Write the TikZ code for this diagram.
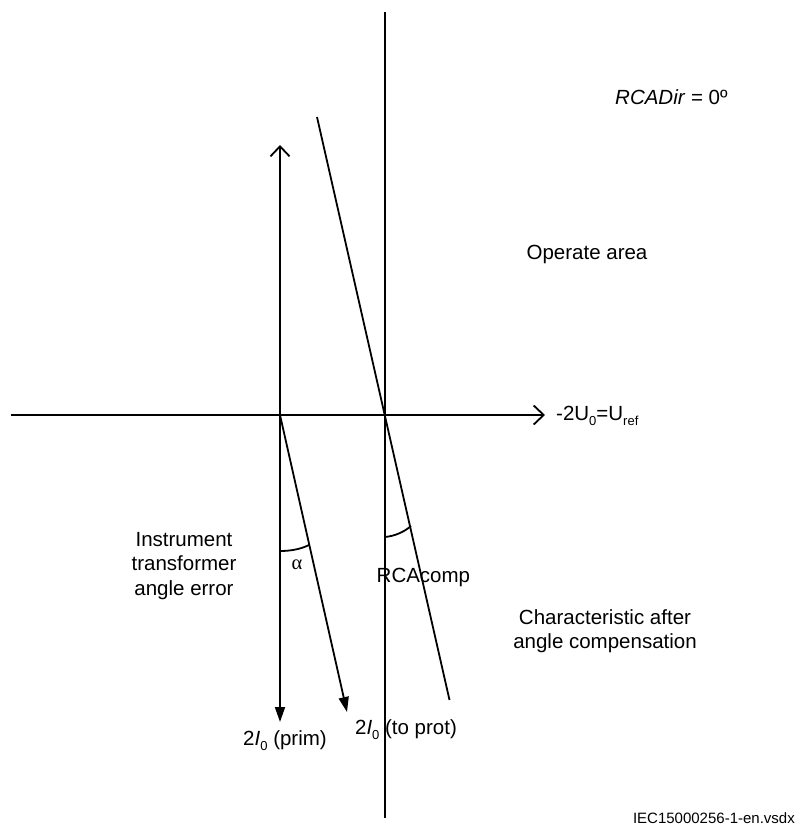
\documentclass[tikz,border=0pt]{standalone}
\usepackage{fontspec}
\setmainfont{Liberation Sans}
\newfontfamily\greekfont{Liberation Serif}
\usetikzlibrary{arrows.meta}
\newcommand\subx[1]{\raisebox{-0.45ex}{\fontsize{13}{13}\selectfont #1}}
\begin{document}
\begin{tikzpicture}[x=1pt,y=-1pt,
  ln/.style={line width=1.8pt},
  openarrow/.style={ln,-{Straight Barb[length=10pt,width=19pt,line width=1.8pt]}},
  fillarrow/.style={ln,-{Triangle[length=15pt,width=10pt]}},
  lbl/.style={inner sep=0pt,font=\fontsize{20.5}{24.5}\selectfont},
  smalllbl/.style={inner sep=0pt,font=\fontsize{15}{18}\selectfont}]
\useasboundingbox (0,0) rectangle (798,827);
% coordinates
\coordinate (O1) at (280,415);
\coordinate (O2) at (385,415);
\coordinate (hL) at (11,415);
\coordinate (hR) at (545,415);
\coordinate (vT) at (385,12);
\coordinate (vB) at (385,818);
\coordinate (upT) at (280,145);
\coordinate (dnB) at (280,722);
\coordinate (prB) at (347,712);
\coordinate (chT) at (317,117);
\coordinate (chB) at (449.5,700);
% axes
\draw[openarrow] (hL) -- (hR);
\draw[ln] (vT) -- (vB);
\draw[openarrow] (O1) -- (upT);
\draw[fillarrow] (O1) -- (dnB);
\draw[fillarrow] (O1) -- (prB);
\draw[ln] (chT) -- (chB);
% angle arcs
\coordinate (a1s) at (280,551);
\coordinate (a1e) at (309,545);
\draw[ln] (a1s) .. controls (291,551) and (301,549) .. (a1e);
\coordinate (a2s) at (385,537);
\coordinate (a2e) at (411,526);
\draw[ln] (a2s) .. controls (395,536) and (404,532) .. (a2e);
% labels
\node[lbl,anchor=west] (rcadir) at (615,97) {\textit{RCADir} = 0º};
\node[lbl] (operate) at (587,254) {Operate area};
\node[lbl,anchor=west] (uref) at (556,416) {-2U\subx{0}=U\subx{ref}};
\node[lbl,align=center] (instr) at (184,566) {Instrument\\transformer\\angle error};
\node[lbl] (alpha) at (297,565) {\greekfont α};
\node[lbl,anchor=west] (rcacomp) at (376.5,577) {RCAcomp};
\node[lbl,align=center] (charac) at (605,631) {Characteristic after\\angle compensation};
\node[lbl] (prim) at (285,741) {2\textit{I}\subx{0} (prim)};
\node[lbl] (toprot) at (406,730) {2\textit{I}\subx{0} (to prot)};
\node[smalllbl,anchor=east] (iec) at (795,818) {IEC15000256-1-en.vsdx};
\end{tikzpicture}
\end{document}
